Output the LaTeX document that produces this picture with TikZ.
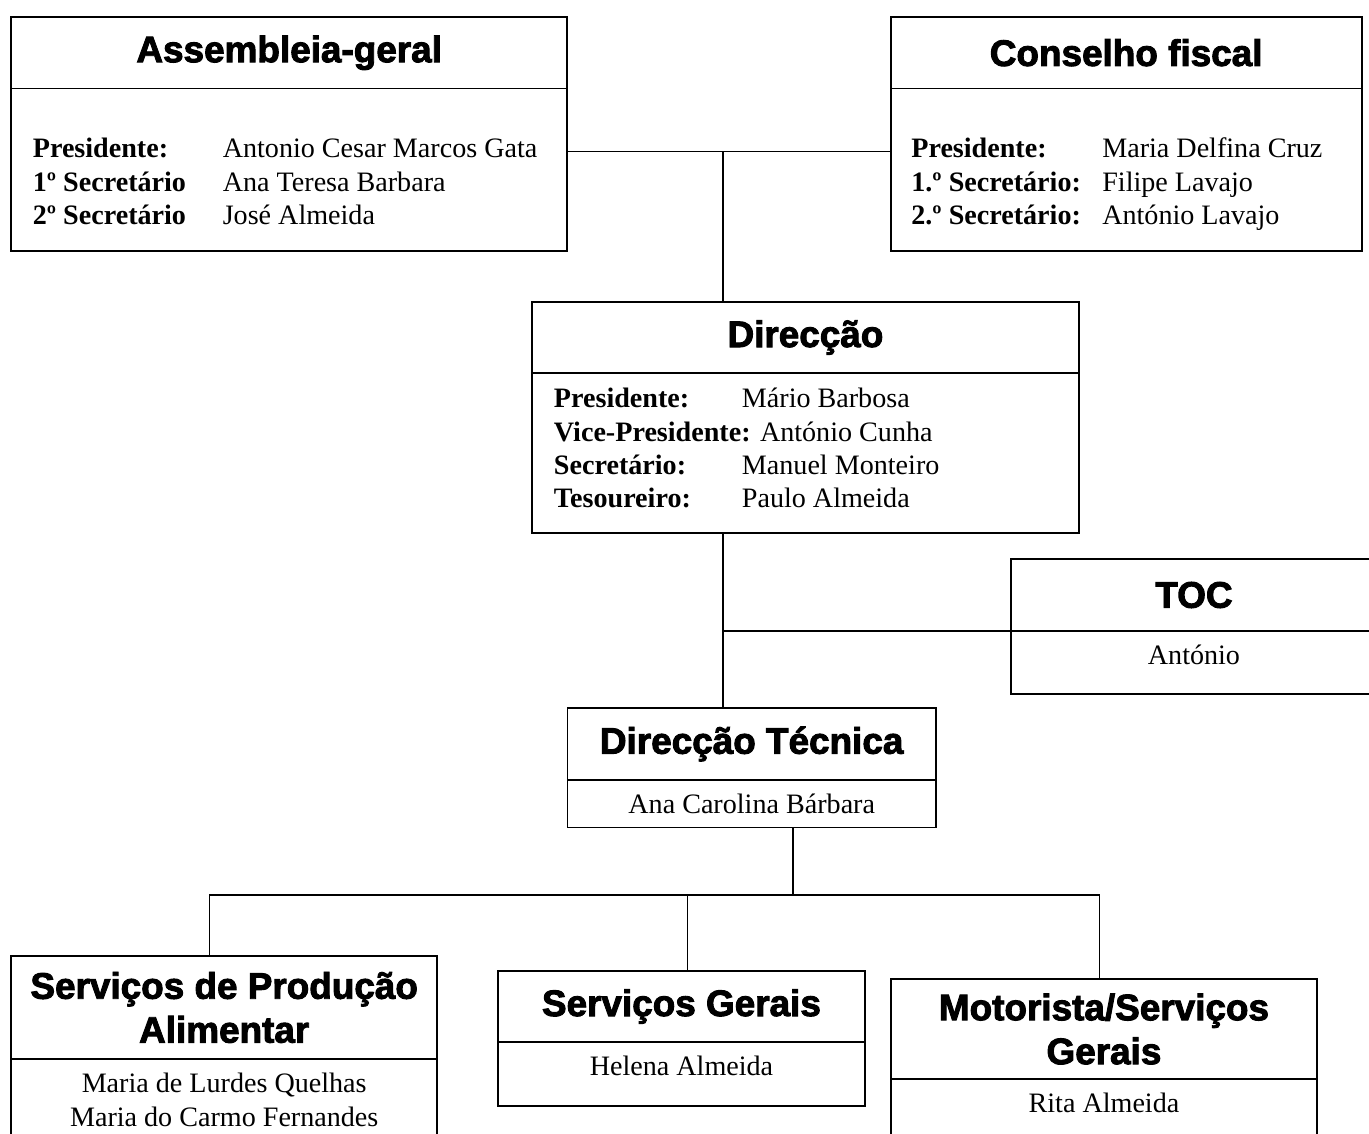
\documentclass[tikz,border=0pt]{standalone}
\usepackage{fontspec}
\setmainfont{Liberation Serif}
\newfontfamily\headfont{Liberation Sans}[BoldFeatures={FakeBold=2.5}]
\usetikzlibrary{positioning}
\tikzset{boxhead/.style={draw, line width=1.1pt, outer sep=0pt, inner sep=0pt,
    anchor=north west, align=center, font=\headfont\bfseries\fontsize{21}{25}\selectfont},
  boxbody/.style={draw, line width=1.1pt, outer sep=0pt, inner sep=0pt},
  boxtext/.style={inner sep=0pt, font=\fontsize{16}{18.8}\selectfont},
  conn/.style={line width=0.9pt}}

\begin{document}
\begin{tikzpicture}[x=0.02cm, y=0.02cm]
  \useasboundingbox (0,0) rectangle (1369,-1133);
  % orgaos sociais
  \node[boxhead, minimum width=11.13cm, minimum height=1.43cm] (ag) at (11,-17) {Assembleia-geral};
  \node[boxbody, minimum width=11.13cm, minimum height=3.26cm, below=0pt of ag] (agb) {};
  \node[boxtext, anchor=base west] (agt) at ([shift={(21.5,-69.5)}]agb.north west)
    {\begin{tabular}[t]{@{}p{3.8cm}@{}l@{}}
      \textbf{Presidente:} & Antonio Cesar Marcos Gata\\
      \textbf{1º Secretário} & Ana Teresa Barbara\\
      \textbf{2º Secretário} & José Almeida
    \end{tabular}};
  \node[boxhead, minimum width=9.42cm, minimum height=1.43cm] (cf) at (890.7,-17) {Conselho fiscal};
  \node[boxbody, minimum width=9.42cm, minimum height=3.26cm, below=0pt of cf] (cfb) {};
  \node[boxtext, anchor=base west] (cft) at ([shift={(20.3,-69.5)}]cfb.north west)
    {\begin{tabular}[t]{@{}p{3.82cm}@{}l@{}}
      \textbf{Presidente:} & Maria Delfina Cruz\\
      \textbf{1.º Secretário:} & Filipe Lavajo\\
      \textbf{2.º Secretário:} & António Lavajo
    \end{tabular}};
  \node[boxhead, minimum width=10.94cm, minimum height=1.42cm] (dir) at (532,-302) {Direcção};
  \node[boxbody, minimum width=10.94cm, minimum height=3.2cm, below=0pt of dir] (dirb) {};
  \node[boxtext, anchor=base west] (dirt) at ([shift={(21.6,-35)}]dirb.north west)
    {\begin{tabular}[t]{@{}p{3.76cm}@{}l@{}}
      \textbf{Presidente:} & Mário Barbosa\\
      \multicolumn{2}{@{}l@{}}{\textbf{Vice-Presidente:} António Cunha}\\
      \textbf{Secretário:} & Manuel Monteiro\\
      \textbf{Tesoureiro:} & Paulo Almeida
    \end{tabular}};
  \node[boxhead, minimum width=7.32cm, minimum height=1.44cm] (toc) at (1011,-559) {TOC};
  \node[boxbody, minimum width=7.32cm, minimum height=1.26cm, below=0pt of toc] (tocb) {};
  \node[boxtext, anchor=base] (toct) at ([shift={(0,-34)}]tocb.north) {António};
  % servicos
  \node[boxhead, minimum width=7.37cm, minimum height=1.44cm] (dt) at (567.5,-708) {Direcção Técnica};
  \node[boxbody, minimum width=7.37cm, minimum height=0.95cm, below=0pt of dt] (dtb) {};
  \node[boxtext, anchor=base] (dtt) at ([shift={(0,-33)}]dtb.north) {Ana Carolina Bárbara};
  \node[boxhead, minimum width=8.53cm, minimum height=2.06cm] (spa) at (11,-956) {Serviços de Produção\\Alimentar};
  \node[boxbody, minimum width=8.53cm, minimum height=2.2cm, below=0pt of spa] (spab) {};
  \node[boxtext, anchor=base] (spat) at ([shift={(0,-34)}]spab.north)
    {\begin{tabular}[t]{@{}c@{}}Maria de Lurdes Quelhas\\Maria do Carmo Fernandes\end{tabular}};
  \node[boxhead, minimum width=7.34cm, minimum height=1.42cm] (sg) at (498,-971) {Serviços Gerais};
  \node[boxbody, minimum width=7.34cm, minimum height=1.28cm, below=0pt of sg] (sgb) {};
  \node[boxtext, anchor=base] (sgt) at ([shift={(0,-33)}]sgb.north) {Helena Almeida};
  \node[boxhead, minimum width=8.52cm, minimum height=2cm] (mot) at (891,-979) {Motorista/Serviços\\Gerais};
  \node[boxbody, minimum width=8.52cm, minimum height=2cm, below=0pt of mot] (motb) {};
  \node[boxtext, anchor=base] (mott) at ([shift={(0,-34)}]motb.north) {Rita Almeida};
  % ligacoes
  \coordinate (top) at (723,-151.7);
  \coordinate (bus) at (792.7,-895);
  \coordinate (busa) at (209.5,-895);
  \coordinate (busb) at (687.7,-895);
  \coordinate (busc) at (1099.5,-895);
  \draw[conn] (agb.east |- top) -- (cfb.west |- top);
  \draw[conn] (top) -- (top |- dir.north);
  \draw[conn] (top |- dirb.south) -- (top |- dt.north);
  \draw[conn] (top |- toc.south west) -- (toc.south west);
  \draw[conn] (dtb.south -| bus) -- (bus);
  \draw[conn] (busa |- spa.north) -- (busa) -- (busc) -- (busc |- mot.north);
  \draw[conn] (busb) -- (busb |- sg.north);
\end{tikzpicture}
\end{document}
